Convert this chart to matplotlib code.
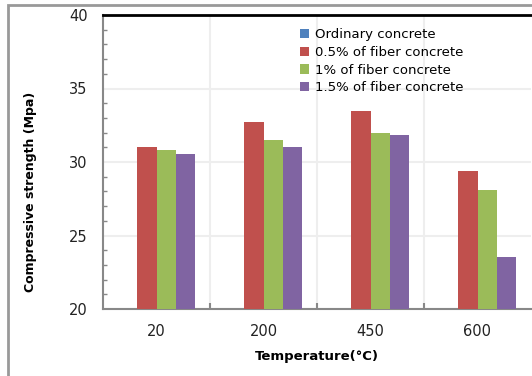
import numpy as np
import matplotlib.pyplot as plt
from matplotlib.patches import Rectangle

temperatures = ['20', '200', '450', '600']
series_names = ['Ordinary concrete', '0.5% of fiber concrete',
                '1% of fiber concrete', '1.5% of fiber concrete']
ordinary = [np.nan, np.nan, np.nan, np.nan]
fiber_05 = [31.0, 32.7, 33.5, 29.4]
fiber_10 = [30.8, 31.5, 32.0, 28.1]
fiber_15 = [30.55, 31.0, 31.85, 23.55]
colors = ['#4f81bd', '#c0504d', '#9bbb59', '#8064a2']

fig = plt.figure(figsize=(5.32, 3.76), dpi=100)
ax = fig.add_axes([103 / 532, 1 - 309 / 376, 428 / 532, 294 / 376])

x = np.arange(len(temperatures))
w = 0.178
for i, (vals, name) in enumerate(zip([ordinary, fiber_05, fiber_10, fiber_15], series_names)):
    ax.bar(x + (i - 1.5) * w, np.array(vals) - 20, w, bottom=20,
           color=colors[i], label=name, zorder=3)

ax.set_xlim(-0.5, 3.5)
ax.set_ylim(20, 40)
ax.set_yticks(np.arange(20, 41, 5))
ax.set_yticks(np.arange(20, 41, 1), minor=True)
ax.set_xticks(x)
ax.set_xticklabels(temperatures)
ax.set_xticks([0.5, 1.5, 2.5], minor=True)
ax.tick_params(axis='x', which='major', length=0, pad=11, labelsize=10.5, colors='#222222')
ax.tick_params(axis='x', which='minor', direction='in', length=4, color='#888888', width=1.5)
ax.tick_params(axis='y', which='major', length=0, pad=11, labelsize=10.5, colors='#222222')
ax.tick_params(axis='y', which='minor', direction='in', length=3, color='#888888', width=1)
ax.grid(True, axis='y', which='major', color='#eeeeee', linewidth=1.5, zorder=0)
ax.grid(True, axis='x', which='minor', color='#eeeeee', linewidth=1.5, zorder=0)

ax.spines['top'].set_color('black')
ax.spines['top'].set_linewidth(2)
ax.spines['right'].set_visible(False)
for s in ['left', 'bottom']:
    ax.spines[s].set_color('#888888')
    ax.spines[s].set_linewidth(1.5)

ax.set_ylabel('Compressive strength (Mpa)', fontsize=9, fontweight='bold')
ax.yaxis.set_label_coords(-0.155, 0.398)
ax.set_xlabel('Temperature(°C)', fontsize=9.5, fontweight='bold', labelpad=8)

ax.legend(loc='upper left', bbox_to_anchor=(300 / 532, 1 - 28 / 376),
          bbox_transform=fig.transFigure, frameon=False, fontsize=9.5,
          handlelength=0.7, handleheight=0.7, handletextpad=0.4,
          labelspacing=0.36, borderaxespad=0, borderpad=0)

fig.patches.append(Rectangle((8 / 532, -0.1), 1.2, 1.1 - 5 / 376, transform=fig.transFigure,
                             fill=False, edgecolor='#999999', linewidth=2))

fig.savefig('out.png', dpi=100)
